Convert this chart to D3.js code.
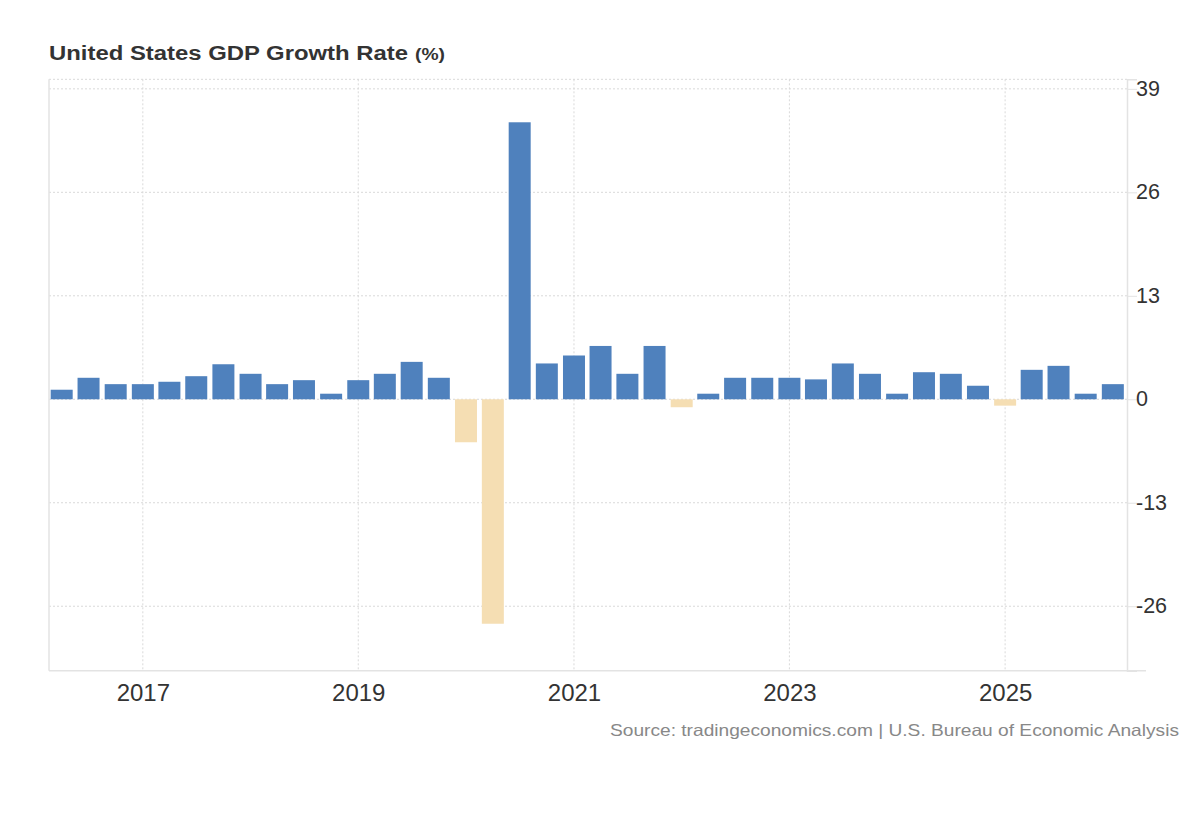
<!DOCTYPE html>
<html lang="en">
  <head>
    <meta charset="UTF-8" />
    <title>United States GDP Growth Rate</title>
    <script src="https://d3js.org/d3.v7.min.js" charset="utf-8"></script>
    <style>
      body { margin: 0; background: #fff; }
      svg text { font-family: "Liberation Sans", Arial, sans-serif; }
    </style>
  </head>
  <body>
    <div id="chart"></div>
    <script>
      // quarterly GDP growth (annualized, %), one entry per quarter start
      const quarters = [
        "2016-04-01", "2016-07-01", "2016-10-01",
        "2017-01-01", "2017-04-01", "2017-07-01", "2017-10-01",
        "2018-01-01", "2018-04-01", "2018-07-01", "2018-10-01",
        "2019-01-01", "2019-04-01", "2019-07-01", "2019-10-01",
        "2020-01-01", "2020-04-01", "2020-07-01", "2020-10-01",
        "2021-01-01", "2021-04-01", "2021-07-01", "2021-10-01",
        "2022-01-01", "2022-04-01", "2022-07-01", "2022-10-01",
        "2023-01-01", "2023-04-01", "2023-07-01", "2023-10-01",
        "2024-01-01", "2024-04-01", "2024-07-01", "2024-10-01",
        "2025-01-01", "2025-04-01", "2025-07-01", "2025-10-01",
        "2026-01-01"
      ];
      const growth = [
        1.2, 2.7, 1.9,
        1.9, 2.2, 2.9, 4.4,
        3.2, 1.9, 2.4, 0.7,
        2.4, 3.2, 4.7, 2.7,
        -5.4, -28.2, 34.8, 4.5,
        5.5, 6.7, 3.2, 6.7,
        -1.0, 0.7, 2.7, 2.7,
        2.7, 2.5, 4.5, 3.2,
        0.7, 3.4, 3.2, 1.7,
        -0.8, 3.7, 4.2, 0.7,
        1.9
      ];
      const yTicks = [39, 26, 13, 0, -13, -26];
      const xTickYears = ["2017", "2019", "2021", "2023", "2025"];

      const width = 1200;
      const height = 820;
      const plotLeft = 49, plotRight = 1127, plotTop = 79.3, plotBottom = 670.7;
      const barWidth = 22;

      const parse = d3.timeParse("%Y-%m-%d");
      const data = quarters.map((q, i) => ({ date: parse(q), value: growth[i] }));

      const x = d3
        .scaleTime()
        .domain([parse("2016-02-18"), parse("2026-02-18")])
        .range([plotLeft, plotRight]);

      const y = d3
        .scaleLinear()
        .domain([-34.1, 40.2])
        .range([plotBottom, plotTop]);

      const svg = d3
        .select("#chart")
        .append("svg")
        .attr("width", width)
        .attr("height", height);

      // title
      svg.append("text")
        .attr("x", 49)
        .attr("y", 59.5)
        .attr("textLength", 359)
        .attr("lengthAdjust", "spacingAndGlyphs")
        .style("font-size", "20px")
        .style("font-weight", "bold")
        .style("fill", "#333")
        .text("United States GDP Growth Rate");
      svg.append("text")
        .attr("x", 415)
        .attr("y", 59.5)
        .attr("textLength", 30)
        .attr("lengthAdjust", "spacingAndGlyphs")
        .style("font-size", "17px")
        .style("font-weight", "bold")
        .style("fill", "#333")
        .text("(%)");

      // grid
      const grid = svg.append("g")
        .style("stroke", "#d9d9d9")
        .style("stroke-width", 1)
        .style("stroke-dasharray", "2,2");

      grid.append("line")
        .attr("x1", plotLeft).attr("x2", plotRight)
        .attr("y1", plotTop).attr("y2", plotTop);

      grid.selectAll("line.h")
        .data(yTicks)
        .enter()
        .append("line")
        .attr("class", "h")
        .attr("x1", plotLeft)
        .attr("x2", plotRight)
        .attr("y1", d => y(d))
        .attr("y2", d => y(d));

      const tickDates = xTickYears.map(s => d3.timeParse("%Y")(s));
      grid.selectAll("line.v")
        .data(tickDates)
        .enter()
        .append("line")
        .attr("class", "v")
        .attr("x1", d => x(d))
        .attr("x2", d => x(d))
        .attr("y1", plotTop)
        .attr("y2", plotBottom);

      // bars
      svg.append("g")
        .selectAll("rect")
        .data(data)
        .enter()
        .append("rect")
        .attr("x", d => x(d.date) - barWidth / 2)
        .attr("width", barWidth)
        .attr("y", d => y(Math.max(0, d.value)))
        .attr("height", d => Math.abs(y(d.value) - y(0)))
        .style("fill", d => (d.value < 0 ? "#f5deb3" : "#4f81bd"));

      // frame lines
      svg.append("line")
        .attr("x1", plotLeft).attr("x2", plotLeft)
        .attr("y1", plotTop).attr("y2", plotBottom)
        .style("stroke", "#e3e3e3")
        .style("stroke-width", 1.5);

      svg.append("line")
        .attr("x1", plotLeft).attr("x2", 1146)
        .attr("y1", plotBottom).attr("y2", plotBottom)
        .style("stroke", "#e3e3e3")
        .style("stroke-width", 1.5);

      // y axis on the right
      const yAxis = d3.axisRight(y)
        .tickValues(yTicks)
        .tickFormat(d => String(d))
        .tickSize(10)
        .tickSizeOuter(10)
        .tickPadding(-1);

      const gy = svg.append("g")
        .attr("transform", "translate(" + plotRight + ",0)")
        .call(yAxis);
      gy.select(".domain").style("stroke", "#e3e3e3").style("stroke-width", 1.5);
      gy.selectAll(".tick line").style("stroke", "#e3e3e3");
      gy.selectAll(".tick text")
        .style("font-size", "21.5px")
        .style("fill", "#333")
        .attr("dy", "0.3em");

      // x axis
      const xAxis = d3.axisBottom(x)
        .tickValues(tickDates)
        .tickFormat(d3.timeFormat("%Y"))
        .tickSize(0)
        .tickPadding(13);

      const gx = svg.append("g")
        .attr("transform", "translate(0," + plotBottom + ")")
        .call(xAxis);
      gx.select(".domain").remove();
      gx.selectAll(".tick text")
        .style("font-size", "24px")
        .style("fill", "#333")
        .attr("dy", "0.71em");

      // source
      svg.append("text")
        .attr("x", 1179)
        .attr("y", 735.5)
        .attr("text-anchor", "end")
        .attr("textLength", 569)
        .attr("lengthAdjust", "spacingAndGlyphs")
        .style("font-size", "16.5px")
        .style("fill", "#888")
        .text("Source: tradingeconomics.com | U.S. Bureau of Economic Analysis");
    </script>
  </body>
</html>
